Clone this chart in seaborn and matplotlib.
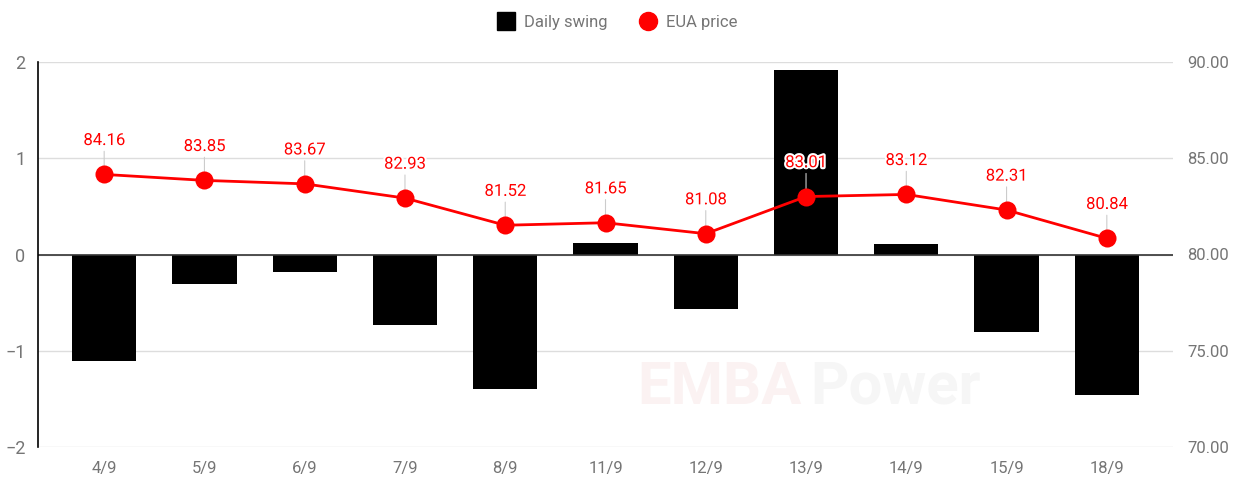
import pandas as pd
import matplotlib.pyplot as plt
import matplotlib.patheffects as pe
from matplotlib.lines import Line2D
import seaborn as sns

dates = ['4/9', '5/9', '6/9', '7/9', '8/9', '11/9', '12/9', '13/9', '14/9', '15/9', '18/9']
swing = [-1.11, -0.31, -0.18, -0.73, -1.40, 0.12, -0.57, 1.92, 0.11, -0.81, -1.46]
price = [84.16, 83.85, 83.67, 82.93, 81.52, 81.65, 81.08, 83.01, 83.12, 82.31, 80.84]

left_ticks = [-2, -1, 0, 1, 2]
right_ticks = [70, 75, 80, 85, 90]

sns.set_style("white")
plt.rcParams['font.family'] = ['Roboto', 'DejaVu Sans']

df = pd.DataFrame({'date': dates, 'swing': swing, 'price': price, 'pos': range(len(dates))})

grey = '#757575'
fig = plt.figure(figsize=(12.34, 4.79), dpi=100)
ax = fig.add_axes([38 / 1234, 1 - 447 / 479, (1173 - 38) / 1234, (447 - 62) / 479])

# watermark (faint)
fig.text(637 / 1234, 1 - 388 / 479, 'EMBA', fontsize=43, fontweight='bold',
         color='#fbf2f2', ha='left', va='center', zorder=0)
fig.text(810 / 1234, 1 - 388 / 479, 'Power', fontsize=43, fontweight='bold',
         color='#f6f6f6', ha='left', va='center', zorder=0)
ax.patch.set_alpha(0)

# bars - daily swing
sns.barplot(data=df, x='date', y='swing', color='black', width=0.64, saturation=1,
            linewidth=0, ax=ax, zorder=2)
ax.set_ylim(-2, 2)
ax.set_yticks(left_ticks)
ax.set_xlim(-0.66, len(dates) - 0.34)
ax.grid(axis='y', color='#dddddd', lw=1, zorder=0)
ax.set_axisbelow(True)
ax.axhline(0, color='#333333', lw=1.2, zorder=2.5)
ax.set_xlabel('')
ax.set_ylabel('')
for s in ['top', 'right', 'bottom']:
    ax.spines[s].set_visible(False)
ax.spines['left'].set_color('black')
ax.spines['left'].set_linewidth(1.2)
ax.tick_params(axis='y', length=0, pad=9, labelsize=13, labelcolor=grey)
ax.tick_params(axis='x', length=0, pad=10, labelsize=12, labelcolor=grey)

# line - EUA price
ax2 = ax.twinx()
sns.lineplot(data=df, x='pos', y='price', color='red', lw=2, marker='o', markersize=13,
             markeredgewidth=0, ax=ax2, zorder=3)
ax2.set_ylim(70, 90)
ax2.set_yticks(right_ticks)
ax2.set_yticklabels([f'{t:.2f}' for t in right_ticks])
ax2.set_ylabel('')
ax2.set_xlabel('')
for s in ax2.spines.values():
    s.set_visible(False)
ax2.tick_params(axis='y', length=0, pad=10, labelsize=12, labelcolor=grey)

for i, p in enumerate(price):
    ax2.annotate(f'{p:.2f}', (i, p), xytext=(0, 19), textcoords='offset points',
                 ha='center', va='bottom', color='red', fontsize=12, zorder=1,
                 path_effects=[pe.withStroke(linewidth=3, foreground='white')],
                 arrowprops=dict(arrowstyle='-', color='#cccccc', lw=0.8, shrinkA=0, shrinkB=0))

handles = [
    Line2D([], [], marker='s', color='black', ls='', markersize=13),
    Line2D([], [], marker='o', color='red', ls='', markersize=13),
]
fig.legend(handles, ['Daily swing', 'EUA price'], loc='upper center', bbox_to_anchor=(0.5, 1.0),
           ncol=2, frameon=False, fontsize=12, labelcolor=grey, handletextpad=0.5,
           columnspacing=1.8, handlelength=1.2)

fig.savefig('out.png', dpi=100)
